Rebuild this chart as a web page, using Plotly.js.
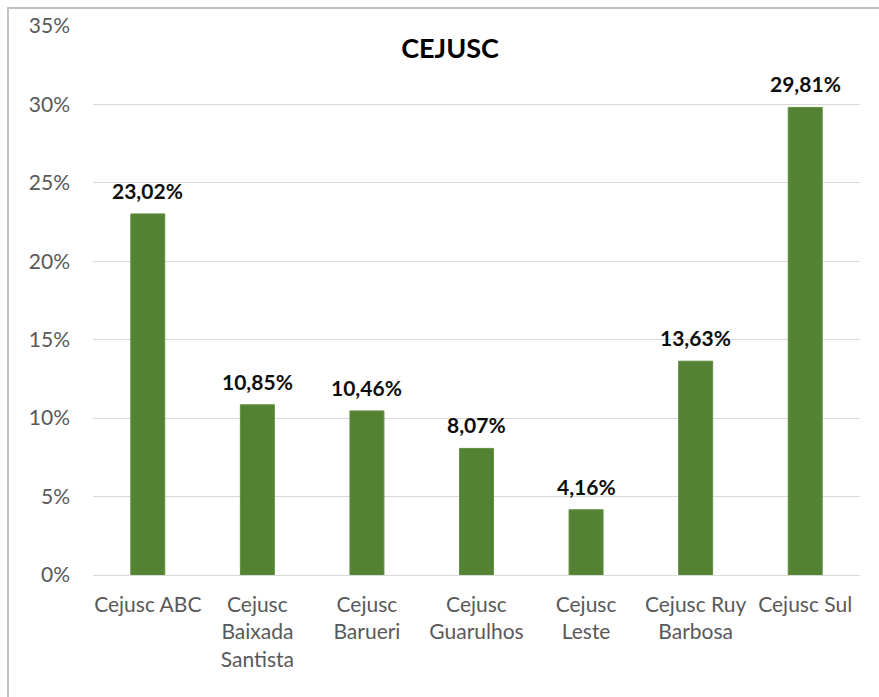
<!DOCTYPE html>
<html>
<head>
<meta charset="utf-8">
<script src="https://cdn.plot.ly/plotly-3.0.1.min.js"></script>
<style>
  html, body { margin: 0; padding: 0; background: #fff; overflow: hidden; }
  #frame { position: absolute; left: 7px; top: 7px; width: 1000px; height: 1000px;
           border-left: 2px solid #c3c3c3; border-top: 2px solid #c3c3c3; }
  #chart { position: absolute; left: 0; top: 0; width: 879px; height: 697px; }
</style>
</head>
<body>
<div id="frame"></div>
<div id="chart"></div>
<script>
const categories = ["Cejusc ABC", "Cejusc Baixada Santista", "Cejusc Barueri", "Cejusc Guarulhos", "Cejusc Leste", "Cejusc Ruy Barbosa", "Cejusc Sul"];
const tickLabels = ["Cejusc ABC", "Cejusc<br>Baixada<br>Santista", "Cejusc<br>Barueri", "Cejusc<br>Guarulhos", "Cejusc<br>Leste", "Cejusc Ruy<br>Barbosa", "Cejusc Sul"];
const values = [23.02, 10.85, 10.46, 8.07, 4.16, 13.63, 29.81];
const yTickVals = [0, 5, 10, 15, 20, 25, 30, 35];
const yTickText = ["0%", "5%", "10%", "15%", "20%", "25%", "30%", "35%"];

const fmt = v => v.toFixed(2).replace('.', ',') + '%';

const trace = {
  type: 'bar',
  x: categories,
  y: values,
  marker: { color: '#548235', line: { color: '#5f8f3e', width: 1 } },
  hoverinfo: 'none'
};

const annotations = categories.map((c, i) => ({
  x: c, y: values[i], xref: 'x', yref: 'y',
  text: '<b>' + fmt(values[i]) + '</b>',
  showarrow: false, yanchor: 'bottom', yshift: 9,
  font: { family: 'Lato, sans-serif', size: 21, color: '#0d0d0d' }
}));

const layout = {
  width: 879, height: 697,
  margin: { l: 93, r: 19, t: 26, b: 122 },
  paper_bgcolor: 'rgba(0,0,0,0)',
  plot_bgcolor: 'rgba(0,0,0,0)',
  showlegend: false,
  bargap: 0.69,
  title: {
    text: '<b>CEJUSC</b>', xref: 'container', x: 0.512, xanchor: 'center',
    yref: 'container', y: 1 - 49 / 697, yanchor: 'middle',
    font: { family: 'Lato, sans-serif', size: 27, color: '#000' }
  },
  xaxis: {
    tickvals: categories, ticktext: tickLabels,
    tickfont: { family: 'Lato, sans-serif', size: 21, color: '#595959' },
    showgrid: false, zeroline: false, showline: false, ticks: '',
    ticklabelstandoff: 15
  },
  yaxis: {
    range: [0, 35], tickvals: yTickVals, ticktext: yTickText,
    tickfont: { family: 'Lato, sans-serif', size: 21, color: '#595959' },
    showgrid: true, gridcolor: '#d9d9d9', gridwidth: 1,
    zeroline: true, zerolinecolor: '#d9d9d9', zerolinewidth: 1,
    showline: false, ticks: '', ticklabelstandoff: 22
  },
  annotations: annotations
};

Plotly.newPlot('chart', [trace], layout, { staticPlot: true, displayModeBar: false });
</script>
</body>
</html>
